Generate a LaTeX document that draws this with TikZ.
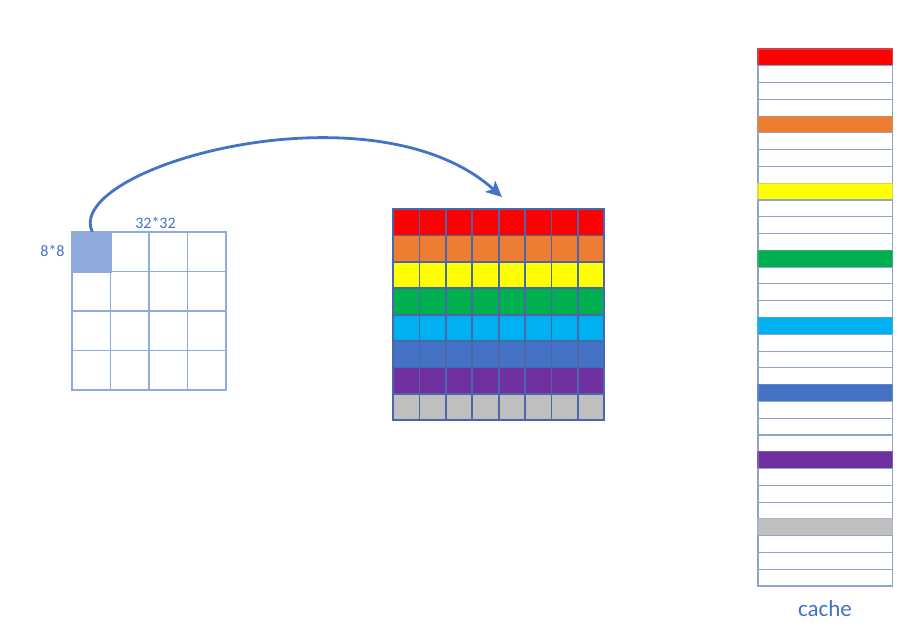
\documentclass[tikz,border=0pt]{standalone}
\usepackage{fontspec}
\setmainfont{Carlito}
\usetikzlibrary{arrows.meta}
\definecolor{accent}{RGB}{68,114,196}
\definecolor{gridline}{RGB}{143,170,220}
\definecolor{shadefill}{RGB}{143,170,220}
\definecolor{cachel}{RGB}{140,165,200}
\definecolor{mline}{RGB}{72,104,170}
\definecolor{cred}{HTML}{FF0000}
\definecolor{corange}{HTML}{ED7D31}
\definecolor{cyellow}{HTML}{FFFF00}
\definecolor{cgreen}{HTML}{00B050}
\definecolor{ccyan}{HTML}{00B0F0}
\definecolor{cblue}{HTML}{4472C4}
\definecolor{cpurple}{HTML}{7030A0}
\definecolor{cgray}{HTML}{BFBFBF}
\tikzset{
  lbl/.style={text=accent, font=\fontsize{16}{18}\selectfont, inner sep=0pt},
  smallcell/.style={draw=gridline, line width=1.2pt},
  bigcell/.style={draw=mline, line width=1.8pt},
  cacherow/.style={draw=cachel, line width=1.1pt},
  flow/.style={draw=accent, line width=2.8pt, -{Stealth[length=16pt,width=15pt,inset=4pt]}}
}
\begin{document}
\begin{tikzpicture}[x=1pt,y=-1pt]
\useasboundingbox (0,0) rectangle (901,633);
% left 4x4 grid
\foreach \i in {0,...,3}{
  \foreach \j in {0,...,3}{
    \draw[smallcell] ({72+38.5*\i},{232+39.5*\j}) rectangle ++(38.5,39.5);
  }
}
\node[smallcell, fill=shadefill, minimum width=38.5pt, minimum height=39.5pt, inner sep=0pt, anchor=north west] (src) at (72,232) {};
\node[lbl, anchor=base] (t32) at (155.5,228) {32*32};
\node[lbl, anchor=base] (t8) at (52.5,256.7) {8*8};
% middle 8x8 grid
\foreach \c [count=\r from 0] in {cred,corange,cyellow,cgreen,ccyan,cblue,cpurple,cgray}{
  \foreach \k in {0,...,7}{
    \filldraw[bigcell, fill=\c] ({393+26.4*\k},{209+26.4*\r}) rectangle ++(26.4,26.4);
  }
}
\draw[bigcell] (393,209) rectangle (604.2,420.2);
\coordinate (tip) at (502,197);
% cache column
\foreach \c [count=\g from 0] in {cred,corange,cyellow,cgreen,ccyan,cblue,cpurple,cgray}{
  \filldraw[cacherow, draw=\c!60!cachel, fill=\c] (758,{49+4*\g*16.78}) rectangle ++(134.5,16.78);
  \foreach \k in {1,2,3}{
    \draw[cacherow] (758,{49+(4*\g+\k)*16.78}) rectangle ++(134.5,16.78);
  }
}
\node[text=accent, font=\fontsize{23}{26}\selectfont, inner sep=0pt, anchor=base] (cachelbl) at (825,616.7) {cache};
% arrow
\draw[flow] ([xshift=0.5pt]src.north) .. controls (62,168) and (372,80) .. (tip);
\end{tikzpicture}
\end{document}
